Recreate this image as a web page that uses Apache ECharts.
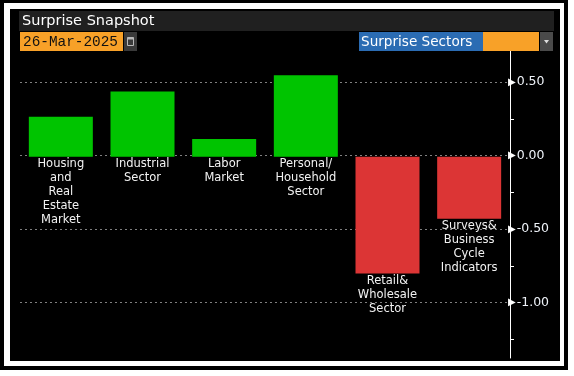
<!DOCTYPE html>
<html>
  <head>
      <meta charset="utf-8">
      <script src="https://cdn.jsdelivr.net/npm/echarts@6/dist/echarts.min.js"></script>
      <style>
        body { margin: 0; background: #fff; }
        .box { position: absolute; }
      </style>
  </head>

<body>
    <!-- frame: black border, white gap, black panel -->
    <div class="box" style="left:0;top:0;width:568px;height:370px;background:#000;"></div>
    <div class="box" style="left:4px;top:3px;width:560px;height:363px;background:#fff;"></div>
    <div class="box" style="left:10px;top:9px;width:550px;height:352px;background:#000;"></div>
    <div id="main" class="box" style="left:0;top:0;width: 574px;height:376px;"></div>
    <script type="text/javascript">
        var categories = ['Housing\nand\nReal\nEstate\nMarket', 'Industrial\nSector', 'Labor\nMarket',
                          'Personal/\nHousehold\nSector', 'Retail&\nWholesale\nSector',
                          'Surveys&\nBusiness\nCycle\nIndicators'];
        var values = [0.27, 0.44, 0.12, 0.55, -0.79, -0.42];
        var titleText = 'Surprise Snapshot';
        var dateText = '26-Mar-2025';
        var pickerText = 'Surprise Sectors';

        var font = 'DejaVu Sans';
        var orange = '#f8a128';

        var myChart = echarts.init(document.getElementById('main'));
        myChart.setOption({
            animation: false,
            // grid 0 holds the bars and the axis line, grid 1 the ticks/labels/gridlines (same scale)
            grid: [
                { left: 20, right: 64, top: 51, bottom: 18 },
                { left: 20, right: 64, top: 8.7, bottom: -2.7 }
            ],
            xAxis: [
                { type: 'category', gridIndex: 0, data: categories, show: false },
                { type: 'category', gridIndex: 1, data: categories, show: false }
            ],
            yAxis: [
                {
                    type: 'value', gridIndex: 0, position: 'right',
                    min: -1.3601, max: 0.7142,
                    axisLine: { show: true, lineStyle: { color: '#fff', width: 1 } },
                    axisTick: { show: false },
                    axisLabel: { show: false },
                    splitLine: { show: false }
                },
                {
                    type: 'value', gridIndex: 1, position: 'right',
                    min: -1.5, max: 1, interval: 0.5,
                    axisLine: { show: false },
                    axisTick: { show: false },
                    minorTick: { show: true, splitNumber: 2, length: 4, lineStyle: { color: '#fff' } },
                    splitLine: {
                        show: true, showMaxLine: false, showMinLine: false,
                        lineStyle: { color: '#808080', type: [2, 3], width: 1 }
                    },
                    axisLabel: {
                        margin: -2,
                        formatter: function (v) {
                            if (v > 0.6 || v < -1.4) return '';
                            return '{t|\u25B6}{v|' + v.toFixed(2) + '}';
                        },
                        rich: {
                            t: { fontSize: 10, color: '#fff', fontFamily: font, padding: [0, 1, 0, 0] },
                            v: { fontSize: 12.5, color: '#eef2f8', fontFamily: font }
                        }
                    }
                }
            ],
            series: [{
                type: 'bar',
                xAxisIndex: 0,
                yAxisIndex: 0,
                data: values,
                barWidth: 64,
                itemStyle: {
                    color: function (p) { return p.value >= 0 ? '#00c400' : '#dc3535'; }
                },
                label: {
                    show: true,
                    position: 'bottom',
                    distance: 0,
                    formatter: function (p) { return p.name; },
                    color: '#f2f2f2',
                    fontFamily: font,
                    fontSize: 11.5,
                    lineHeight: 14,
                    align: 'center'
                }
            }],
            graphic: {
                elements: [
                    { type: 'rect', z: 100, shape: { x: 19, y: 11, width: 535, height: 20 }, style: { fill: '#202020' } },
                    { type: 'text', z: 101, x: 22, y: 21,
                      style: { text: titleText, fill: '#fff', font: '14.5px "DejaVu Sans"', verticalAlign: 'middle' } },
                    { type: 'rect', z: 100, shape: { x: 20, y: 32, width: 103, height: 19 }, style: { fill: orange } },
                    { type: 'text', z: 101, x: 23, y: 42,
                      style: { text: dateText, fill: '#111', font: '14.4px "Liberation Mono"', verticalAlign: 'middle' } },
                    { type: 'rect', z: 100, shape: { x: 124, y: 32, width: 13, height: 19 }, style: { fill: '#3a3a3a' } },
                    { type: 'rect', z: 101, shape: { x: 127.5, y: 37.5, width: 6, height: 8 }, style: { fill: 'none', stroke: '#b8b8b8', lineWidth: 1 } },
                    { type: 'rect', z: 101, shape: { x: 127.5, y: 37.5, width: 6, height: 2 }, style: { fill: '#b8b8b8' } },
                    { type: 'rect', z: 100, shape: { x: 359, y: 32, width: 180, height: 19 }, style: { fill: orange } },
                    { type: 'rect', z: 101, shape: { x: 359, y: 32, width: 124, height: 19 }, style: { fill: '#2b6cb3' } },
                    { type: 'text', z: 102, x: 361, y: 42,
                      style: { text: pickerText, fill: '#fff', font: '13.6px "DejaVu Sans"', verticalAlign: 'middle' } },
                    { type: 'rect', z: 100, shape: { x: 540, y: 32, width: 13, height: 19 }, style: { fill: '#4a4a4a' } },
                    { type: 'polygon', z: 101, shape: { points: [[544, 40], [549, 40], [546.5, 43.5]] }, style: { fill: '#dddddd' } }
                ]
            }
        });
    </script>
</body>

</html>
